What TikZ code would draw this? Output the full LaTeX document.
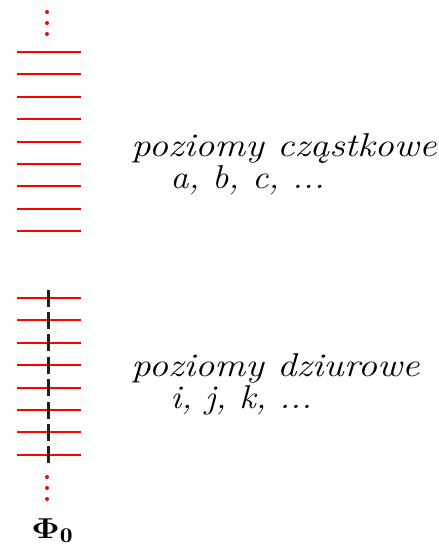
\documentclass[tikz,border=0pt]{standalone}
\usepackage{amsmath}
\usepackage{bm}
\usepackage{fontspec}
\usepackage{xcolor}
\usetikzlibrary{positioning,calc}
\tikzset{
  lvl/.style={draw=red, line width=1pt},
  dot/.style={circle, fill=red, inner sep=0pt, minimum size=2pt},
  hole/.style={draw=black!87, line width=1.5pt, dash pattern=on 8.5pt off 2.7pt},
  txt/.style={anchor=base west, inner sep=0pt, font=\fontsize{16.5}{18}\selectfont\itshape}
}

\begin{document}
\begin{tikzpicture}[x=0.5pt, y=-0.5pt]
  \useasboundingbox (0,0) rectangle (439,547);
  % particle levels
  \foreach \k in {0,...,8}
    \draw[lvl] (17,{52+22.4*\k}) -- (81,{52+22.4*\k});
  % hole levels
  \foreach \k in {0,...,7}
    \draw[lvl] (17,{298+22.4*\k}) -- (81,{298+22.4*\k});
  \coordinate (htop) at (48,289.5);
  \coordinate (hbot) at (48,463.5);
  \draw[hole] (htop) -- (hbot);

  \foreach \y/\n in {12/1,23/2,34/3}
    \node[dot] (top\n) at (47,\y) {};
  \foreach \y/\n in {477/1,488/2,499/3}
    \node[dot] (bot\n) at (47,\y) {};

  \node[txt] (part) at (131,156) {\scalebox{1.17}[1]{poziomy cząstkowe}};
  \node[txt] (abc) at (170,188) {\scalebox{1.1}[1]{a, b, c, ...}};
  \node[txt] (hole) at (131,376) {\scalebox{1.17}[1]{poziomy dziurowe}};
  \node[txt] (ijk) at (170,408) {\scalebox{1.1}[1]{i, j, k, ...}};

  \node[anchor=base west, inner sep=0pt, font=\fontsize{15}{17}\selectfont] (phi)
    at (31,538) {\scalebox{1.22}[1]{$\boldsymbol{\Phi}_{\mathbf{0}}$}};
\end{tikzpicture}
\end{document}
